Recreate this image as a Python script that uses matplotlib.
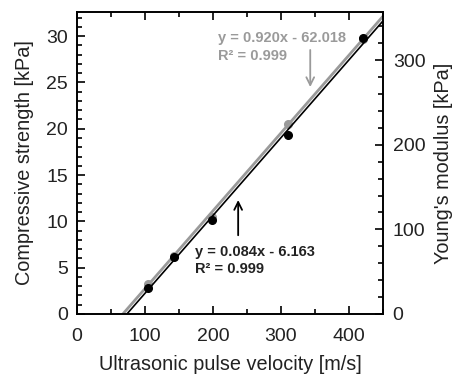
import numpy as np
import matplotlib.pyplot as plt
from matplotlib.ticker import MultipleLocator

plt.rcParams['font.family'] = ['Liberation Sans', 'DejaVu Sans']

# datos
velocity = [105, 143, 198, 311, 420]          # m/s
strength = [2.8, 6.2, 10.2, 19.3, 29.8]       # kPa
modulus = [36, 69, 115, 225, 325]             # kPa

# ajustes lineales (texto de la figura)
a_s, b_s = 0.084, -6.163
a_e, b_e = 0.920, -62.018

fig = plt.figure(figsize=(4.53, 3.76), dpi=100)
ax = fig.add_axes([77 / 453, 1 - 314 / 376, 306 / 453, 302 / 376])
ax2 = ax.twinx()

xs_line = np.array([-b_s / a_s, 450])
xe_line = np.array([-b_e / a_e, 450])

gray = '#9a9a9a'
ax2.plot(xe_line, a_e * xe_line + b_e, color=gray, lw=2.0, zorder=2)
ax2.plot(velocity, modulus, 'o', color=gray, ms=5.5, zorder=3)
ax.plot(xs_line, a_s * xs_line + b_s, color='black', lw=1.2, zorder=4)
ax.plot(velocity, strength, 'o', color='black', ms=5.5, zorder=5)

ax.set_zorder(ax2.get_zorder() + 1)
ax.patch.set_visible(False)

ax.set_xlim(0, 450)
ax.set_ylim(0, 32.6)
ax2.set_ylim(0, 32.6 * 10.95)

ax.xaxis.set_major_locator(MultipleLocator(100))
ax.xaxis.set_minor_locator(MultipleLocator(50))
ax.yaxis.set_major_locator(MultipleLocator(5))
ax.yaxis.set_minor_locator(MultipleLocator(1))
ax2.yaxis.set_major_locator(MultipleLocator(100))
ax2.yaxis.set_minor_locator(MultipleLocator(20))

ax.tick_params(axis='x', which='both', direction='in', top=True, labelsize=14, pad=10, width=1.2)
ax.tick_params(axis='y', which='both', direction='in', right=False, labelsize=14, pad=6.5, width=1.2)
ax2.tick_params(axis='y', which='both', direction='in', labelsize=14, pad=7, width=1.2)
for a in (ax, ax2):
    a.tick_params(which='major', length=6, labelcolor='#222222')
    a.tick_params(which='minor', length=3.5)
    for s in a.spines.values():
        s.set_linewidth(1.2)

ax.set_xlabel('Ultrasonic pulse velocity [m/s]', fontsize=14.3, color='#222222', labelpad=7)
ax.set_ylabel('Compressive strength [kPa]', fontsize=14.3, color='#222222', labelpad=9)
ax2.set_ylabel("Young's modulus [kPa]", fontsize=14.3, color='#222222', labelpad=6)

ax.annotate('', xy=(343, 24.2), xytext=(343, 28.8),
            arrowprops=dict(arrowstyle='->', color=gray, lw=1.3, mutation_scale=14))
ax.text(208, 30.5, 'y = 0.920x - 62.018\nR² = 0.999', color=gray,
        fontsize=10.5, fontweight='bold', va='top', ha='left', linespacing=1.3)

ax.annotate('', xy=(237, 12.6), xytext=(237, 8.2),
            arrowprops=dict(arrowstyle='->', color='black', lw=1.3, mutation_scale=14))
ax.text(173, 7.5, 'y = 0.084x - 6.163\nR² = 0.999', color='#222222',
        fontsize=10.5, fontweight='bold', va='top', ha='left', linespacing=1.3)

fig.savefig('out.png', dpi=100)
